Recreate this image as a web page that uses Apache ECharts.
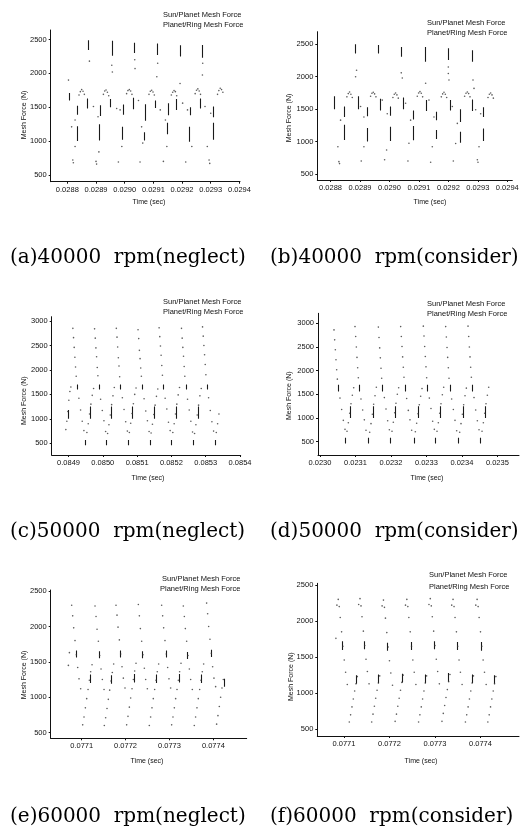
<!DOCTYPE html>
<html>
<head>
<meta charset="utf-8">
<script src="https://cdn.jsdelivr.net/npm/echarts@6/dist/echarts.min.js"></script>
<style>
html, body { margin: 0; padding: 0; background: #fff; }
#chart { width: 528px; height: 832px; }
</style>
</head>
<body>
<div id="chart"></div>
<script>
// 图例与标题
var legendNames = ['Sun/Planet Mesh Force', 'Planet/Ring Mesh Force'];
var captions = ['(a)40000  rpm(neglect)', '(b)40000  rpm(consider)', '(c)50000  rpm(neglect)',
                '(d)50000  rpm(consider)', '(e)60000  rpm(neglect)', '(f)60000  rpm(consider)'];

// 刻度
var xTicksA = [0.0288, 0.0289, 0.0290, 0.0291, 0.0292, 0.0293, 0.0294];
var xTicksC = [0.0849, 0.0850, 0.0851, 0.0852, 0.0853, 0.0854];
var xTicksD = [0.0230, 0.0231, 0.0232, 0.0233, 0.0234, 0.0235];
var xTicksE = [0.0771, 0.0772, 0.0773, 0.0774];
var yTicks25 = [500, 1000, 1500, 2000, 2500];
var yTicks30 = [500, 1000, 1500, 2000, 2500, 3000];

// (a) 40000 rpm neglect : [time, force]
var sunPlanetA = [
  [0.0288407,1680],[0.0288453,1730],[0.0288500,1760],[0.0288547,1735],[0.0288593,1690],
  [0.0289257,1690],[0.0289303,1740],[0.0289350,1755],[0.0289397,1720],[0.0289443,1670],
  [0.0290067,1700],[0.0290113,1745],[0.0290160,1760],[0.0290207,1740],[0.0290253,1690],
  [0.0290847,1690],[0.0290893,1735],[0.0290940,1750],[0.0290987,1725],[0.0291033,1680],
  [0.0291627,1680],[0.0291673,1720],[0.0291720,1745],[0.0291767,1730],[0.0291813,1670],
  [0.0292457,1700],[0.0292503,1750],[0.0292550,1770],[0.0292597,1740],[0.0292643,1690],
  [0.0293237,1690],[0.0293283,1745],[0.0293330,1780],[0.0293377,1760],[0.0293423,1720],
  [0.0288040,1900],[0.0289550,2120],[0.0289570,2020],[0.0290360,2070],[0.0291120,1950],
  [0.0291930,1850],[0.0292710,1975],[0.0288770,2180],[0.0290350,2200],[0.0291150,2150],[0.0292720,2150],
  [0.0288910,1510],[0.0289720,1480],[0.0290480,1600],[0.0291240,1460],[0.0292020,1560],[0.0292800,1510]
];
var planetRingA = [
  [0.0288190,720],[0.0288210,680],[0.0289000,700],[0.0289020,660],[0.0289780,690],[0.0290535,690],
  [0.0291349,700],[0.0292128,690],[0.0292942,720],[0.0292965,670],
  [0.0288150,1210],[0.0288270,1310],[0.0289070,1360],[0.0289840,1460],[0.0290590,1210],
  [0.0291420,1310],[0.0292190,1460],[0.0293000,1410],
  [0.0288270,920],[0.0289100,840],[0.0289900,920],[0.0290630,970],[0.0291470,920],[0.0292340,920],[0.0292880,920]
];
// 短竖线 : [time, forceTop, forceBottom]
var dashA = [
  [0.0288730,2490,2345],[0.0289550,2480,2260],[0.0290330,2450,2300],[0.0291120,2440,2270],
  [0.0291930,2415,2250],[0.0292710,2420,2230],[0.0288060,1710,1600],
  [0.0288700,1630,1480],[0.0289490,1620,1500],[0.0290300,1640,1470],[0.0291060,1600,1490],
  [0.0291810,1620,1460],[0.0292630,1630,1480],
  [0.0288350,1520,1390],[0.0288350,1220,1000],[0.0289140,1530,1370],[0.0289120,1250,1010],
  [0.0289950,1540,1390],[0.0289930,1210,1020],[0.0290710,1545,1300],[0.0290690,1130,1010],
  [0.0291520,1560,1380],[0.0291500,1270,1100],[0.0292280,1500,1380],[0.0292260,1210,990],
  [0.0293090,1510,1350],[0.0293070,1270,1020]
];

// (b) 40000 rpm consider
var sunPlanetB = [
  [0.0288555,1690],[0.0288601,1740],[0.0288646,1765],[0.0288691,1730],[0.0288737,1680],
  [0.0289359,1700],[0.0289405,1745],[0.0289450,1760],[0.0289495,1735],[0.0289541,1690],
  [0.0290117,1680],[0.0290163,1730],[0.0290208,1750],[0.0290253,1720],[0.0290299,1670],
  [0.0290944,1700],[0.0290990,1750],[0.0291035,1770],[0.0291080,1745],[0.0291126,1690],
  [0.0291760,1690],[0.0291806,1735],[0.0291851,1760],[0.0291896,1730],[0.0291942,1680],
  [0.0292552,1700],[0.0292598,1745],[0.0292643,1765],[0.0292688,1740],[0.0292734,1690],
  [0.0293345,1680],[0.0293391,1730],[0.0293436,1750],[0.0293481,1720],[0.0293527,1670],
  [0.0288883,2100],[0.0290435,1980],[0.0291228,1900],[0.0291998,2150],[0.0291998,2050],
  [0.0292020,1950],[0.0292836,1950],[0.0292870,1820],[0.0288850,2000],[0.0290400,2060],
  [0.0289019,1540],[0.0289755,1640],[0.0290548,1590],[0.0291341,1640],[0.0292134,1540],[0.0292926,1490]
];
var planetRingB = [
  [0.0288283,690],[0.0288305,660],[0.0289042,700],[0.0289835,720],[0.0290627,700],[0.0291398,680],
  [0.0292168,700],[0.0292983,720],[0.0293005,680],
  [0.0288340,1330],[0.0289133,1380],[0.0289925,1430],[0.0290718,1330],[0.0291511,1380],
  [0.0292304,1280],[0.0293096,1430],
  [0.0288249,920],[0.0289133,920],[0.0289903,870],[0.0290661,975],[0.0291454,920],[0.0292247,970],[0.0293040,920]
];
var dashB = [
  [0.0288827,2500,2360],[0.0289619,2490,2360],[0.0290412,2460,2310],[0.0291228,2460,2230],
  [0.0291998,2440,2260],[0.0292813,2410,2230],[0.0288136,1700,1500],
  [0.0288940,1700,1500],[0.0289699,1660,1480],[0.0290469,1680,1500],[0.0291262,1640,1470],
  [0.0292054,1640,1480],[0.0292813,1650,1470],
  [0.0288453,1540,1380],[0.0288453,1260,1025],[0.0289246,1530,1390],[0.0289246,1210,1000],
  [0.0290016,1540,1400],[0.0290016,1230,1010],[0.0290809,1480,1340],[0.0290809,1240,1020],
  [0.0291601,1460,1330],[0.0291601,1180,1040],[0.0292394,1500,1300],[0.0292394,1150,980],
  [0.0293187,1530,1380],[0.0293187,1200,1010]
];

// (c) 50000 rpm neglect
var sunPlanetC = [
  [0.0849127,2850],[0.0849147,2660],[0.0849166,2460],[0.0849186,2260],[0.0849205,2060],[0.0849224,1870],
  [0.0849760,2840],[0.0849780,2650],[0.0849799,2450],[0.0849819,2270],[0.0849838,2050],[0.0849857,1880],
  [0.0850394,2850],[0.0850414,2670],[0.0850433,2470],[0.0850453,2250],[0.0850472,2080],[0.0850491,1860],
  [0.0851027,2820],[0.0851047,2640],[0.0851066,2400],[0.0851086,2230],[0.0851105,2040],[0.0851124,1870],
  [0.0851641,2860],[0.0851661,2680],[0.0851680,2490],[0.0851700,2300],[0.0851719,2090],[0.0851738,1890],
  [0.0852294,2850],[0.0852314,2650],[0.0852333,2460],[0.0852353,2280],[0.0852372,2070],[0.0852391,1870],
  [0.0852908,2880],[0.0852928,2690],[0.0852947,2500],[0.0852967,2310],[0.0852986,2110],[0.0853005,1900],
  [0.0849303,1420],[0.0849352,1180],[0.0849400,950],[0.0849449,760],
  [0.0849936,1400],[0.0849985,1170],[0.0850033,960],[0.0850082,740],
  [0.0850570,1430],[0.0850619,1190],[0.0850667,940],[0.0850716,750],
  [0.0851203,1410],[0.0851252,1160],[0.0851300,960],[0.0851349,740],
  [0.0851817,1420],[0.0851866,1200],[0.0851914,930],[0.0851963,760],
  [0.0852470,1400],[0.0852519,1180],[0.0852567,950],[0.0852616,730],
  [0.0853084,1430],[0.0853133,1170],[0.0853181,940],[0.0853230,750]
];
var planetRingC = [
  [0.0848923,780],[0.0848952,950],[0.0848981,1150],[0.0849010,1380],[0.0849040,1560],[0.0849069,1650],
  [0.0849536,720],[0.0849575,900],[0.0849614,1100],[0.0849653,1300],[0.0849692,1480],[0.0849731,1620],
  [0.0850140,700],[0.0850179,880],[0.0850218,1080],[0.0850257,1290],[0.0850296,1470],[0.0850335,1640],
  [0.0850774,720],[0.0850813,910],[0.0850852,1110],[0.0850891,1310],[0.0850930,1500],[0.0850969,1630],
  [0.0851408,710],[0.0851447,890],[0.0851486,1090],[0.0851525,1280],[0.0851564,1460],[0.0851603,1610],
  [0.0852041,720],[0.0852080,900],[0.0852119,1100],[0.0852158,1300],[0.0852197,1490],[0.0852236,1640],
  [0.0852675,700],[0.0852714,880],[0.0852753,1080],[0.0852792,1280],[0.0852831,1470],[0.0852870,1620],
  [0.0853308,720],[0.0853347,900],[0.0853386,1100]
];
var dashC = [
  [0.0849254,1700,1600],[0.0849887,1700,1600],[0.0850521,1700,1600],[0.0851154,1700,1600],
  [0.0851768,1700,1600],[0.0852421,1700,1600],[0.0853035,1700,1600],
  [0.0849497,570,460],[0.0850101,570,460],[0.0850735,570,460],[0.0851369,570,460],
  [0.0852002,570,460],[0.0852636,570,460],[0.0853269,570,460],
  [0.0848981,1180,1000],[0.0849633,1250,1000],[0.0850237,1250,1000],[0.0850871,1250,1000],
  [0.0851505,1250,1000],[0.0852138,1250,1000],[0.0852772,1250,1000]
];

// (d) 50000 rpm consider
var sunPlanetD = [
  [0.0230395,2860],[0.0230414,2650],[0.0230433,2440],[0.0230451,2230],[0.0230470,2020],[0.0230489,1820],
  [0.0230987,2930],[0.0231006,2720],[0.0231025,2500],[0.0231043,2280],[0.0231062,2060],[0.0231081,1850],
  [0.0231645,2920],[0.0231664,2700],[0.0231683,2480],[0.0231701,2270],[0.0231720,2050],[0.0231739,1840],
  [0.0232274,2930],[0.0232293,2720],[0.0232312,2510],[0.0232330,2290],[0.0232349,2070],[0.0232368,1860],
  [0.0232913,2940],[0.0232932,2730],[0.0232951,2510],[0.0232969,2300],[0.0232988,2080],[0.0233007,1850],
  [0.0233543,2930],[0.0233562,2710],[0.0233581,2490],[0.0233599,2280],[0.0233618,2060],[0.0233637,1840],
  [0.0234173,2940],[0.0234192,2720],[0.0234211,2500],[0.0234229,2290],[0.0234248,2070],[0.0234267,1860],
  [0.0230564,1420],[0.0230611,1180],[0.0230658,950],[0.0230705,760],
  [0.0231156,1400],[0.0231203,1170],[0.0231250,960],[0.0231297,740],
  [0.0231814,1430],[0.0231861,1190],[0.0231908,940],[0.0231955,750],
  [0.0232443,1410],[0.0232490,1160],[0.0232537,960],[0.0232584,740],
  [0.0233082,1420],[0.0233129,1200],[0.0233176,930],[0.0233223,760],
  [0.0233712,1400],[0.0233759,1180],[0.0233806,950],[0.0233853,730],
  [0.0234342,1430],[0.0234389,1170],[0.0234436,940],[0.0234483,750]
];
var planetRingD = [
  [0.0230762,720],[0.0230799,900],[0.0230837,1100],[0.0230874,1300],[0.0230912,1480],[0.0230950,1640],
  [0.0231401,700],[0.0231438,880],[0.0231476,1080],[0.0231513,1290],[0.0231551,1470],[0.0231589,1650],
  [0.0232030,720],[0.0232067,910],[0.0232105,1110],[0.0232142,1310],[0.0232180,1500],[0.0232218,1640],
  [0.0232688,710],[0.0232725,890],[0.0232763,1090],[0.0232800,1280],[0.0232838,1460],[0.0232876,1620],
  [0.0233299,720],[0.0233336,900],[0.0233374,1100],[0.0233411,1300],[0.0233449,1490],[0.0233487,1650],
  [0.0233938,700],[0.0233975,880],[0.0234013,1080],[0.0234050,1280],[0.0234088,1470],[0.0234126,1630],
  [0.0234568,720],[0.0234605,900],[0.0234643,1100],[0.0234680,1300],[0.0234718,1480],[0.0234756,1650]
];
var dashD = [
  [0.0230517,1700,1560],[0.0231109,1700,1560],[0.0231767,1700,1560],[0.0232396,1700,1560],
  [0.0233035,1700,1560],[0.0233665,1700,1560],[0.0234295,1700,1560],
  [0.0230724,580,460],[0.0231363,580,460],[0.0231992,580,460],[0.0232650,580,460],
  [0.0233261,580,460],[0.0233900,580,460],[0.0234530,580,460],
  [0.0230856,1250,1000],[0.0231495,1250,1000],[0.0232124,1250,1000],[0.0232782,1250,1000],
  [0.0233393,1250,1000],[0.0234032,1250,1000],[0.0234662,1250,1000]
];

// (e) 60000 rpm neglect
var sunPlanetE = [
  [0.0770697,1450],[0.0770720,1630],
  [0.0770772,2300],[0.0770795,2150],[0.0770818,1980],[0.0770848,1800],[0.0770878,1600],[0.0770909,1420],[0.0770939,1260],[0.0770977,1120],
  [0.0771304,2290],[0.0771327,2140],[0.0771350,1960],[0.0771380,1790],[0.0771410,1590],[0.0771441,1400],[0.0771471,1250],[0.0771509,1110],
  [0.0771782,2300],[0.0771805,2160],[0.0771828,1990],[0.0771858,1810],[0.0771888,1610],[0.0771919,1430],[0.0771949,1270],[0.0771987,1130],
  [0.0772291,2310],[0.0772314,2150],[0.0772337,1970],[0.0772367,1790],[0.0772397,1600],[0.0772428,1410],[0.0772458,1250],[0.0772496,1120],
  [0.0772822,2300],[0.0772845,2150],[0.0772868,1980],[0.0772898,1800],[0.0772928,1610],[0.0772959,1420],[0.0772989,1260],[0.0773027,1130],
  [0.0773316,2290],[0.0773339,2140],[0.0773362,1970],[0.0773392,1790],[0.0773422,1590],[0.0773453,1400],[0.0773483,1250],[0.0773521,1110],
  [0.0773847,2330],[0.0773870,2180],[0.0773893,2000],[0.0773923,1820],[0.0773953,1620],[0.0773984,1430],[0.0774014,1270],[0.0774052,1150]
];
var planetRingE = [
  [0.0771023,610],[0.0771053,720],[0.0771084,850],[0.0771114,980],[0.0771145,1110],[0.0771175,1240],[0.0771205,1360],[0.0771236,1460],
  [0.0771516,600],[0.0771546,710],[0.0771577,840],[0.0771607,970],[0.0771638,1100],[0.0771668,1230],[0.0771698,1350],[0.0771729,1470],
  [0.0772025,610],[0.0772055,730],[0.0772086,860],[0.0772116,990],[0.0772147,1120],[0.0772177,1250],[0.0772207,1370],[0.0772238,1480],
  [0.0772541,600],[0.0772571,720],[0.0772602,850],[0.0772632,980],[0.0772663,1110],[0.0772693,1240],[0.0772723,1360],[0.0772754,1470],
  [0.0773050,610],[0.0773080,720],[0.0773111,850],[0.0773141,980],[0.0773172,1110],[0.0773202,1240],[0.0773232,1360],[0.0773263,1480],
  [0.0773566,600],[0.0773596,720],[0.0773627,850],[0.0773657,980],[0.0773688,1110],[0.0773718,1240],[0.0773748,1360],[0.0773779,1470],
  [0.0774075,620],[0.0774105,740],[0.0774136,870],[0.0774166,1000],[0.0774197,1130],[0.0774227,1250]
];
var dashE = [
  [0.0770871,1660,1560],[0.0771403,1650,1550],[0.0771881,1660,1560],[0.0772390,1650,1550],
  [0.0772921,1660,1560],[0.0773415,1640,1540],[0.0773946,1670,1570],
  [0.0771190,1320,1200],[0.0771683,1310,1190],[0.0772192,1330,1210],[0.0772708,1320,1200],
  [0.0773217,1330,1210],[0.0773733,1320,1200],[0.0774242,1260,1150]
];

// (f) 60000 rpm consider
var sunPlanetF = [
  [0.0770846,2220],[0.0770875,2300],[0.0770897,2200],[0.0770919,2050],[0.0770949,1850],[0.0770978,1650],[0.0771007,1460],[0.0771037,1290],[0.0771074,1120],
  [0.0771324,2230],[0.0771353,2310],[0.0771375,2210],[0.0771397,2060],[0.0771427,1860],[0.0771456,1660],[0.0771485,1470],[0.0771515,1300],[0.0771552,1130],
  [0.0771839,2210],[0.0771868,2290],[0.0771890,2190],[0.0771912,2040],[0.0771942,1840],[0.0771971,1640],[0.0772000,1450],[0.0772030,1280],[0.0772067,1110],
  [0.0772353,2220],[0.0772382,2300],[0.0772404,2200],[0.0772426,2050],[0.0772456,1850],[0.0772485,1650],[0.0772514,1460],[0.0772544,1290],[0.0772581,1120],
  [0.0772868,2230],[0.0772897,2310],[0.0772919,2210],[0.0772941,2060],[0.0772971,1860],[0.0773000,1660],[0.0773029,1470],[0.0773059,1300],[0.0773096,1130],
  [0.0773368,2220],[0.0773397,2300],[0.0773419,2200],[0.0773441,2050],[0.0773471,1850],[0.0773500,1650],[0.0773529,1460],[0.0773559,1290],[0.0773596,1120],
  [0.0773897,2220],[0.0773926,2300],[0.0773948,2200],[0.0773970,2050],[0.0774000,1850],[0.0774029,1650],[0.0774058,1460],[0.0774088,1290],[0.0774125,1120],
  [0.0770824,1760]
];
var planetRingF = [
  [0.0771118,600],[0.0771147,700],[0.0771177,810],[0.0771206,920],[0.0771236,1030],[0.0771265,1130],[0.0771294,1230],
  [0.0771610,600],[0.0771639,710],[0.0771669,820],[0.0771698,930],[0.0771728,1040],[0.0771757,1140],[0.0771786,1240],
  [0.0772125,610],[0.0772154,710],[0.0772184,820],[0.0772213,930],[0.0772243,1040],[0.0772272,1150],[0.0772301,1250],
  [0.0772640,600],[0.0772669,700],[0.0772699,810],[0.0772728,920],[0.0772758,1030],[0.0772787,1140],[0.0772816,1240],
  [0.0773154,610],[0.0773183,720],[0.0773213,830],[0.0773242,940],[0.0773272,1050],[0.0773301,1160],[0.0773330,1260],
  [0.0773669,600],[0.0773698,700],[0.0773728,810],[0.0773757,920],[0.0773787,1030],[0.0773816,1140],[0.0773845,1240],
  [0.0774162,600],[0.0774191,700],[0.0774221,810],[0.0774250,920],[0.0774280,1030],[0.0774309,1130],[0.0774338,1230]
];
var dashF = [
  [0.0770963,1720,1600],[0.0771441,1720,1610],[0.0771956,1700,1590],[0.0772470,1710,1600],
  [0.0772985,1720,1610],[0.0773485,1710,1600],[0.0774014,1710,1590],
  [0.0771265,1250,1130],[0.0771757,1260,1140],[0.0772272,1270,1150],[0.0772787,1260,1140],
  [0.0773301,1280,1160],[0.0773816,1260,1140],[0.0774309,1250,1130]
];

// 每个子图的布局
var panels = [
  { grid: [50.7, 30, 189.3, 151.7], x: [0.028742, 0.029402], y: [400, 2640], xt: xTicksA, yt: yTicks25,
    sp: sunPlanetA, pr: planetRingA, dash: dashA, leg: [163, 15, 163, 25], time: [149, 202], mesh: [24, 115], cap: [10, 258] },
  { grid: [317.3, 31.7, 195, 148.3], x: [0.028755, 0.029417], y: [407, 2695], xt: xTicksA, yt: yTicks25,
    sp: sunPlanetB, pr: planetRingB, dash: dashB, leg: [427, 22.7, 427, 33.3], time: [430, 201.7], mesh: [289, 118], cap: [270, 258] },
  { grid: [51.7, 316.7, 189, 138.3], x: [0.084851, 0.085402], y: [261, 3088], xt: xTicksC, yt: yTicks30,
    sp: sunPlanetC, pr: planetRingC, dash: dashC, leg: [163, 302.3, 163, 312.3], time: [148, 478], mesh: [24, 400.7], cap: [10, 532] },
  { grid: [318, 313.3, 201, 141.7], x: [0.0229944, 0.023561], y: [218, 3211], xt: xTicksD, yt: yTicks30,
    sp: sunPlanetD, pr: planetRingD, dash: dashD, leg: [427, 304.3, 427, 313.7], time: [427, 478], mesh: [289, 395.7], cap: [270, 532] },
  { grid: [50.7, 590, 196, 148.3], x: [0.0770294, 0.077476], y: [420, 2515], xt: xTicksE, yt: yTicks25,
    sp: sunPlanetE, pr: planetRingE, dash: dashE, leg: [162, 579.3, 160, 589.3], time: [147, 760.7], mesh: [24, 675], cap: [10, 817] },
  { grid: [317.3, 583.3, 201.7, 152.7], x: [0.0770415, 0.0774846], y: [407, 2523], xt: xTicksE, yt: yTicks25,
    sp: sunPlanetF, pr: planetRingF, dash: dashF, leg: [429, 575, 429, 586.7], time: [421, 760.7], mesh: [290.7, 676.7], cap: [270, 817] }
];

var axisFont = 'Liberation Sans';
var grids = [], xAxes = [], yAxes = [], series = [], graphics = [];

panels.forEach(function (p, i) {
  grids.push({ left: p.grid[0], top: p.grid[1], width: p.grid[2], height: p.grid[3], containLabel: false });
  xAxes.push({
    gridIndex: i, type: 'value', min: p.x[0], max: p.x[1],
    axisLine: { show: true, onZero: false, lineStyle: { color: '#111', width: 1 } },
    axisTick: { show: true, customValues: p.xt, length: 2, lineStyle: { color: '#111' } },
    axisLabel: { customValues: p.xt, formatter: function (v) { return v.toFixed(4); },
                 fontSize: 7.5, color: '#111', margin: 4, fontFamily: axisFont },
    splitLine: { show: false }
  });
  yAxes.push({
    gridIndex: i, type: 'value', min: p.y[0], max: p.y[1],
    axisLine: { show: true, onZero: false, lineStyle: { color: '#111', width: 1 } },
    axisTick: { show: true, customValues: p.yt, length: 2, lineStyle: { color: '#111' } },
    axisLabel: { customValues: p.yt, formatter: function (v) { return String(v); },
                 fontSize: 7.5, color: '#111', margin: 4, fontFamily: axisFont },
    splitLine: { show: false }
  });
  series.push({
    type: 'scatter', name: legendNames[0], xAxisIndex: i, yAxisIndex: i, data: p.sp,
    symbolSize: 1.6, itemStyle: { color: '#333' }, silent: true
  });
  series.push({
    type: 'scatter', name: legendNames[1], xAxisIndex: i, yAxisIndex: i, data: p.pr,
    symbolSize: 1.6, itemStyle: { color: '#333' }, silent: true
  });
  series.push({
    type: 'lines', coordinateSystem: 'cartesian2d', xAxisIndex: i, yAxisIndex: i,
    data: p.dash.map(function (d) { return { coords: [[d[0], d[1]], [d[0], d[2]]] }; }),
    lineStyle: { color: '#1a1a1a', width: 1.1, opacity: 1, curveness: 0 }, silent: true
  });
  // 图例文字
  graphics.push({ type: 'text', x: p.leg[0], y: p.leg[1],
    style: { text: legendNames[0], font: '7.5px "Liberation Sans"', fill: '#111', verticalAlign: 'middle' } });
  graphics.push({ type: 'text', x: p.leg[2], y: p.leg[3],
    style: { text: legendNames[1], font: '7.5px "Liberation Sans"', fill: '#111', verticalAlign: 'middle' } });
  // 坐标轴名称
  graphics.push({ type: 'text', x: p.time[0], y: p.time[1],
    style: { text: 'Time (sec)', font: '7px "Liberation Sans"', fill: '#111', align: 'center', verticalAlign: 'middle' } });
  graphics.push({ type: 'text', x: p.mesh[0], y: p.mesh[1], rotation: Math.PI / 2,
    style: { text: 'Mesh Force (N)', font: '7px "Liberation Sans"', fill: '#111', align: 'center', verticalAlign: 'middle' } });
  // 子图标题
  graphics.push({ type: 'text', x: p.cap[0], y: p.cap[1],
    style: { text: captions[i], font: '20px "DejaVu Serif"', fill: '#000', verticalAlign: 'middle' } });
});

var chart = echarts.init(document.getElementById('chart'));
chart.setOption({
  animation: false,
  backgroundColor: '#fff',
  grid: grids,
  xAxis: xAxes,
  yAxis: yAxes,
  series: series,
  graphic: graphics
});
</script>
</body>
</html>
